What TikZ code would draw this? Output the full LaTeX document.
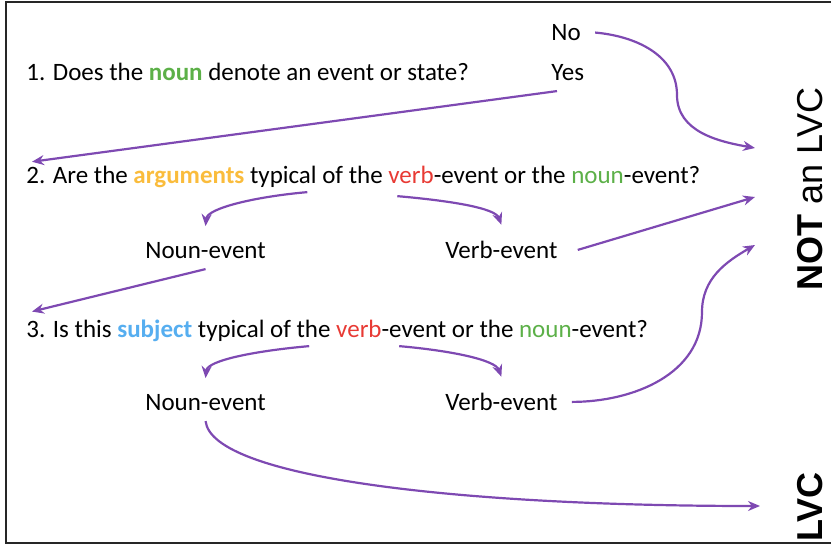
\documentclass[tikz,border=0pt]{standalone}
\usepackage{fontspec}
\setmainfont{Carlito}
\newfontfamily\labelfont{Liberation Sans}
\usetikzlibrary{arrows.meta}
\definecolor{ColFlow}{RGB}{126,73,178}
\definecolor{ColNoun}{RGB}{92,176,72}
\definecolor{ColArg}{RGB}{250,188,60}
\definecolor{ColVerb}{RGB}{232,58,52}
\definecolor{ColSubj}{RGB}{86,174,240}
\tikzstyle{TextNode}=[inner sep=2pt,anchor=base west,font=\fontsize{12.5}{14}\selectfont]
\tikzstyle{SideNode}=[inner sep=0pt,rotate=90,font=\labelfont\fontsize{18}{20}\selectfont]
\tikzstyle{EdgeFlow}=[ColFlow,line width=1.1pt,-{Stealth[length=6pt,width=5pt]}]
\tikzstyle{ArcLeft}=[out=185,in=85,out distance=26pt,in distance=9pt]
\tikzstyle{ArcRight}=[out=-5,in=110,out distance=26pt,in distance=9pt]
\tikzstyle{Frame}=[line width=0.9pt,black!85]
\begin{document}
\begin{tikzpicture}[x=0.5pt,y=-0.5pt]
    \useasboundingbox(0,0)rectangle(831,546);
    \draw[Frame](831,2)-|(6,543)--(831,543);
    % questions and answers
    \node[TextNode](q1)at(22,80.5){1. Does the \textcolor{ColNoun}{\textbf{noun}} denote an event or state?};
    \node[TextNode](no)at(547,40.5){No};
    \node[TextNode](yes)at(547,80.5){Yes};
    \node[TextNode](q2)at(22,183.5){2. Are the \textcolor{ColArg}{\textbf{arguments}} typical of the \textcolor{ColVerb}{verb}-event or the \textcolor{ColNoun}{noun}-event?};
    \node[TextNode](nounA)at(141,258.5){Noun-event};
    \node[TextNode](verbA)at(441,258.5){Verb-event};
    \node[TextNode](q3)at(22,337.5){3. Is this \textcolor{ColSubj}{\textbf{subject}} typical of the \textcolor{ColVerb}{verb}-event or the \textcolor{ColNoun}{noun}-event?};
    \node[TextNode](nounB)at(141,410.5){Noun-event};
    \node[TextNode](verbB)at(441,410.5){Verb-event};
    % outcomes
    \node[SideNode](notlvc)at(810,189){\textbf{NOT} an LVC};
    \node[SideNode](lvc)at(810,507){\textbf{LVC}};
    \coordinate(t1)at(755,148);
    \coordinate(t2)at(755,197);
    \coordinate(t3)at(755,245);
    \coordinate(t4)at(760,506);
    % arrows
    \draw[EdgeFlow]([xshift=5pt]no.east)to[out=-5,in=90](677,95)to[out=-90,in=170](t1);
    \draw[EdgeFlow]([xshift=5pt,yshift=-3pt]yes.south west)--([xshift=5pt]q2.north west);
    \draw[EdgeFlow]([xshift=-28pt]q2.south)to[ArcLeft]([yshift=6pt]nounA.north);
    \draw[EdgeFlow]([xshift=17pt,yshift=-2pt]q2.south)to[ArcRight]([yshift=6pt]verbA.north);
    \draw[EdgeFlow]([xshift=8pt]verbA.east)--(t2);
    \draw[EdgeFlow]([yshift=-3pt]nounA.south)--([xshift=5pt,yshift=2pt]q3.north west);
    \draw[EdgeFlow]([xshift=-14pt]q3.south)to[ArcLeft]([yshift=6pt]nounB.north);
    \draw[EdgeFlow]([xshift=31pt]q3.south)to[ArcRight]([yshift=6pt]verbB.north);
    \draw[EdgeFlow]([xshift=5pt]verbB.east)to[out=0,in=-90](702,312)to[out=90,in=210](t3);
    \draw[EdgeFlow]([yshift=-3pt]nounB.south)..controls(212,478)and(460,506)..(t4);
\end{tikzpicture}
\end{document}
